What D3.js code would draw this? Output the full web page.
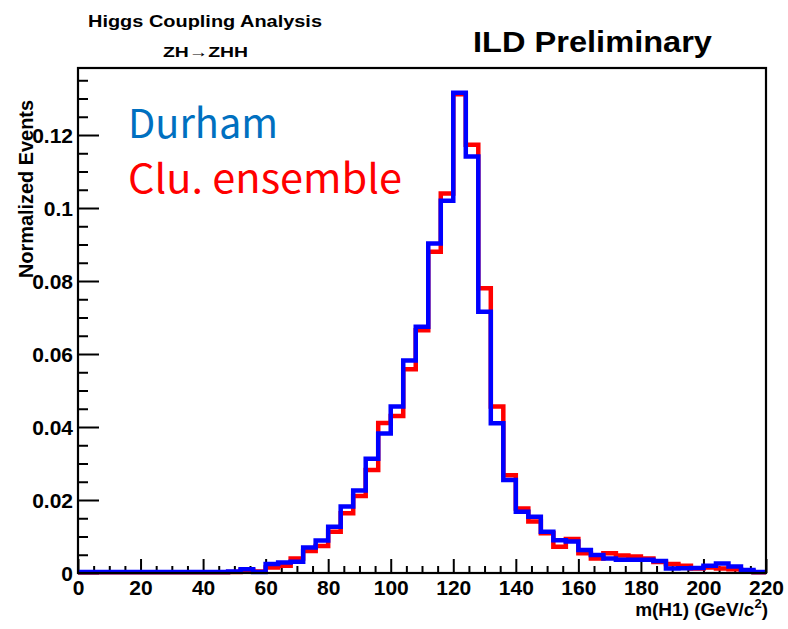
<!DOCTYPE html>
<html>
<head>
<meta charset="utf-8">
<script src="https://cdn.jsdelivr.net/npm/d3@7"></script>
<style>
  body { margin: 0; background: #fff; }
  svg { display: block; }
  .tick text { font-family: "Liberation Sans", Arial, sans-serif; font-weight: bold; font-size: 21px; fill: #000; }
</style>
</head>
<body>
<svg id="chart" width="788" height="629"></svg>
<script>
// lower edges of the 4 GeV bins
const binLow = [0, 4, 8, 12, 16, 20, 24, 28, 32, 36, 40, 44, 48, 52, 56, 60, 64, 68, 72, 76,
  80, 84, 88, 92, 96, 100, 104, 108, 112, 116, 120, 124, 128, 132, 136, 140, 144, 148, 152, 156,
  160, 164, 168, 172, 176, 180, 184, 188, 192, 196, 200, 204, 208, 212, 216];

// Durham (blue)
const durham = [0.0003, 0.0003, 0.0003, 0.0003, 0.0003, 0.0003, 0.0003, 0.0003, 0.0003, 0.0003,
  0.0003, 0.0003, 0.0004, 0.0010, 0.0003, 0.0025, 0.0029, 0.0031, 0.0070, 0.0089,
  0.0127, 0.0182, 0.0226, 0.0313, 0.0382, 0.0456, 0.0582, 0.0675, 0.0903, 0.1020,
  0.1316, 0.1141, 0.0716, 0.0410, 0.0255, 0.0168, 0.0154, 0.0113, 0.0090, 0.0086,
  0.0063, 0.0049, 0.0040, 0.0036, 0.0036, 0.0036, 0.0033, 0.0012, 0.0013, 0.0014,
  0.0020, 0.0026, 0.0018, 0.0008, 0.0003];

// Clu. ensemble (red)
const cluEnsemble = [0.0002, 0.0002, 0.0002, 0.0002, 0.0002, 0.0002, 0.0002, 0.0002, 0.0002, 0.0002,
  0.0002, 0.0002, 0.0003, 0.0008, 0.0004, 0.0015, 0.0020, 0.0040, 0.0060, 0.0074,
  0.0113, 0.0164, 0.0211, 0.0282, 0.0411, 0.0430, 0.0558, 0.0665, 0.0880, 0.1040,
  0.1312, 0.1173, 0.0780, 0.0456, 0.0268, 0.0177, 0.0141, 0.0109, 0.0072, 0.0093,
  0.0054, 0.0040, 0.0054, 0.0048, 0.0045, 0.0040, 0.0030, 0.0025, 0.0020, 0.0012,
  0.0015, 0.0012, 0.0010, 0.0005, 0.0002];

const xTicks = [0, 20, 40, 60, 80, 100, 120, 140, 160, 180, 200, 220];
const yTicks = [0, 0.02, 0.04, 0.06, 0.08, 0.1, 0.12];
const yTickLabels = ["0", "0.02", "0.04", "0.06", "0.08", "0.1", "0.12"];

const svg = d3.select("#chart");
const padLeft = 78, padRight = 766, padTop = 68, padBottom = 573;
const xMax = 220, yMax = 0.13836;

var xScale = d3.scaleLinear().domain([0, xMax]).range([padLeft, padRight]);
var yScale = d3.scaleLinear().domain([0, yMax]).range([padBottom, padTop]);

// minor ticks, every 5 on x, every 0.005 on y
var xMinor = d3.range(0, xMax + 0.1, 5).filter(v => v % 20 != 0);
var yMinor = d3.range(0, yMax, 0.005).filter(v => Math.abs(v / 0.02 - Math.round(v / 0.02)) > 1e-6);

svg.append("g")
  .attr("transform", "translate(0," + padBottom + ")")
  .call(d3.axisBottom(xScale).tickValues(xMinor).tickFormat("").tickSizeInner(-7).tickSizeOuter(0))
  .call(g => g.select(".domain").remove())
  .selectAll("line").attr("stroke", "#000").attr("stroke-width", 2);

svg.append("g")
  .attr("transform", "translate(" + padLeft + ",0)")
  .call(d3.axisLeft(yScale).tickValues(yMinor).tickFormat("").tickSizeInner(-10).tickSizeOuter(0))
  .call(g => g.select(".domain").remove())
  .selectAll("line").attr("stroke", "#000").attr("stroke-width", 2);

var xAxis = svg.append("g")
  .attr("transform", "translate(0," + padBottom + ")")
  .call(d3.axisBottom(xScale).tickValues(xTicks).tickFormat(d3.format("d")).tickSizeInner(-14).tickSizeOuter(0).tickPadding(7));
xAxis.select(".domain").remove();
xAxis.selectAll("line").attr("stroke", "#000").attr("stroke-width", 2);

var yAxis = svg.append("g")
  .attr("transform", "translate(" + padLeft + ",0)")
  .call(d3.axisLeft(yScale).tickValues(yTicks).tickFormat((d, i) => yTickLabels[i]).tickSizeInner(-21).tickSizeOuter(0).tickPadding(5));
yAxis.select(".domain").remove();
yAxis.selectAll("line").attr("stroke", "#000").attr("stroke-width", 2);
yAxis.selectAll("text").attr("dy", "0.36em");

// histograms as steps
function stepPoints(values) {
  let pts = binLow.map((b, i) => [b, values[i]]);
  pts.push([xMax, values[values.length - 1]]);
  return pts;
}
var stepLine = d3.line()
  .x(d => xScale(d[0]))
  .y(d => yScale(d[1]))
  .curve(d3.curveStepAfter);

svg.append("path")
  .attr("d", stepLine(stepPoints(cluEnsemble)))
  .attr("fill", "none").attr("stroke", "#ff0000").attr("stroke-width", 4.5)
  .attr("stroke-linejoin", "miter");

svg.append("path")
  .attr("d", stepLine(stepPoints(durham)))
  .attr("fill", "none").attr("stroke", "#0000ff").attr("stroke-width", 4.5)
  .attr("stroke-linejoin", "miter");

// frame
svg.append("rect")
  .attr("x", padLeft).attr("y", padTop)
  .attr("width", padRight - padLeft).attr("height", padBottom - padTop)
  .attr("fill", "none").attr("stroke", "#000").attr("stroke-width", 2.2);

// texts
const bold = "'Liberation Sans', Arial, sans-serif";
svg.append("text").attr("x", 88).attr("y", 27)
  .attr("font-family", bold).attr("font-weight", "bold").attr("font-size", 16)
  .attr("textLength", 234).attr("lengthAdjust", "spacingAndGlyphs")
  .text("Higgs Coupling Analysis");
svg.append("text").attr("x", 163).attr("y", 57)
  .attr("font-family", bold).attr("font-weight", "bold").attr("font-size", 15)
  .attr("textLength", 85).attr("lengthAdjust", "spacingAndGlyphs")
  .text("ZH\u2192ZHH");
svg.append("text").attr("x", 473).attr("y", 52)
  .attr("font-family", bold).attr("font-weight", "bold").attr("font-size", 29)
  .attr("textLength", 239).attr("lengthAdjust", "spacingAndGlyphs")
  .text("ILD Preliminary");

svg.append("text")
  .attr("transform", "translate(33,100) rotate(-90)")
  .attr("text-anchor", "end")
  .attr("font-family", bold).attr("font-weight", "bold").attr("font-size", 20)
  .attr("textLength", 178).attr("lengthAdjust", "spacingAndGlyphs")
  .text("Normalized Events");

var xl = svg.append("text").attr("x", 768).attr("y", 616)
  .attr("text-anchor", "end")
  .attr("font-family", bold).attr("font-weight", "bold").attr("font-size", 19);
xl.append("tspan").text("m(H1) (GeV/c");
xl.append("tspan").attr("font-size", 13).attr("dy", -8).text("2");
xl.append("tspan").attr("dy", 8).text(")");

svg.append("text").attr("x", 128).attr("y", 138)
  .attr("font-family", "'Noto Sans CJK JP', 'Noto Sans', sans-serif").attr("font-size", 40)
  .attr("fill", "#0070c0")
  .attr("textLength", 150).attr("lengthAdjust", "spacingAndGlyphs")
  .text("Durham");
svg.append("text").attr("x", 128).attr("y", 193)
  .attr("font-family", "'Noto Sans CJK JP', 'Noto Sans', sans-serif").attr("font-size", 40)
  .attr("fill", "#ff0000")
  .attr("textLength", 274).attr("lengthAdjust", "spacingAndGlyphs")
  .text("Clu. ensemble");
</script>
</body>
</html>
